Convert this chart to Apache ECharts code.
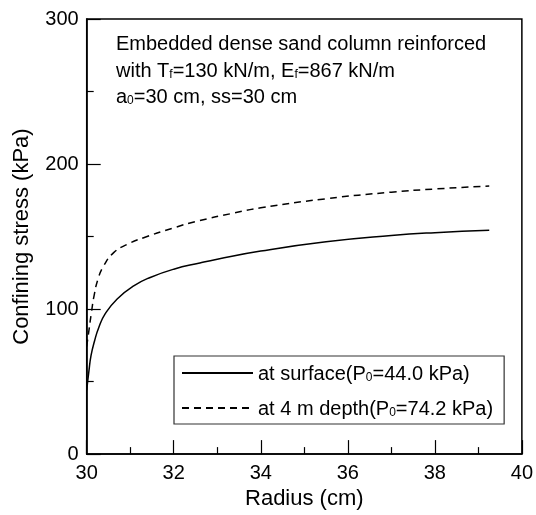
<!DOCTYPE html>
<html>
<head>
<meta charset="utf-8">
<script src="https://cdn.jsdelivr.net/npm/echarts@6/dist/echarts.min.js"></script>
<style>html,body{margin:0;padding:0;background:#fff;}#c{width:536px;height:515px;}</style>
</head>
<body>
<div id="c"></div>
<script>
// Radius (cm) and confining stress (kPa)
var surfaceRadius = [30.00, 30.05, 30.10, 30.18, 30.28, 30.43, 30.70, 31.08, 31.46, 32.00, 32.60, 33.00, 34.00, 35.50, 37.00, 38.00, 39.25];
var surfaceStress = [44.0, 57.0, 68.0, 78.0, 87.5, 97.0, 107.0, 116.0, 121.8, 127.5, 131.8, 134.4, 140.0, 146.4, 150.7, 152.7, 154.4];
var depthRadius = [30.00, 30.05, 30.11, 30.17, 30.26, 30.39, 30.62, 30.93, 31.31, 32.00, 32.50, 33.38, 34.00, 35.48, 37.00, 38.00, 39.25];
var depthStress = [74.2, 85.0, 97.9, 109.3, 120.7, 129.8, 138.9, 144.6, 149.2, 156.0, 160.3, 166.2, 169.8, 176.0, 180.6, 182.8, 184.8];
var xTicks = [30, 32, 34, 36, 38, 40];
var yTicks = [0, 100, 200, 300];
var seriesNames = ['at surface(P0=44.0 kPa)', 'at 4 m depth(P0=74.2 kPa)'];

function pairs(xs, ys) { return xs.map(function (x, i) { return [x, ys[i]]; }); }

var FONT = 'Liberation Sans, Arial, Helvetica, sans-serif';
var chart = echarts.init(document.getElementById('c'));
var subRich = {
  m: { fontSize: 20, fontFamily: FONT, color: '#000', verticalAlign: 'bottom', lineHeight: 22 },
  s: { fontSize: 12, fontFamily: FONT, color: '#000', verticalAlign: 'bottom', lineHeight: 6 }
};
function legendFmt(name) {
  var m = name.match(/^(.*P)(0)(=.*)$/);
  return '{m|' + m[1] + '}{s|' + m[2] + '}{m|' + m[3] + '}';
}

chart.setOption({
  animation: false,
  backgroundColor: '#fff',
  grid: { left: 86.7, right: 10.7, top: 19, bottom: 56.5, show: true, borderColor: '#000', borderWidth: 1.5, containLabel: false },
  xAxis: {
    type: 'value', min: xTicks[0], max: xTicks[xTicks.length - 1], interval: 2,
    name: 'Radius (cm)', nameLocation: 'middle', nameGap: 33,
    nameTextStyle: { fontSize: 22, fontFamily: FONT, color: '#000' },
    axisLine: { lineStyle: { color: '#000', width: 1.5 } },
    axisTick: { inside: true, length: 14, lineStyle: { color: '#000', width: 1.2 } },
    minorTick: { show: true, splitNumber: 2, length: 7, lineStyle: { color: '#000', width: 1.2 } },
    axisLabel: { fontSize: 20, fontFamily: FONT, color: '#000', margin: 9 },
    splitLine: { show: false }
  },
  yAxis: {
    type: 'value', min: yTicks[0], max: yTicks[yTicks.length - 1], interval: 100,
    name: 'Confining stress (kPa)', nameLocation: 'middle', nameGap: 54,
    nameTextStyle: { fontSize: 22, fontFamily: FONT, color: '#000' },
    axisLine: { lineStyle: { color: '#000', width: 1.5 } },
    axisTick: { inside: true, length: 14, lineStyle: { color: '#000', width: 1.2 } },
    minorTick: { show: true, splitNumber: 2, length: 7, lineStyle: { color: '#000', width: 1.2 } },
    axisLabel: { fontSize: 20, fontFamily: FONT, color: '#000', margin: 8 },
    splitLine: { show: false }
  },
  legend: {
    left: 174, top: 356, orient: 'vertical',
    padding: [8, 11, 5, 7], itemGap: 15, itemWidth: 71, itemHeight: 14,
    borderColor: '#333', borderWidth: 1.2, backgroundColor: '#fff',
    itemStyle: { opacity: 0 },
    data: [{ name: seriesNames[0] }, { name: seriesNames[1] }],
    formatter: legendFmt,
    textStyle: { fontSize: 20, fontFamily: FONT, color: '#000', rich: subRich }
  },
  graphic: [
    { type: 'text', left: 116, top: 34, style: { text: 'Embedded dense sand column reinforced', font: '20px ' + FONT, fill: '#000' } },
    { type: 'text', left: 116, top: 61, style: { text: '{m|with T}{s|f}{m|=130 kN/m, E}{s|f}{m|=867 kN/m}', rich: subRich, fill: '#000' } },
    { type: 'text', left: 116, top: 87, style: { text: '{m|a}{s|0}{m|=30 cm, ss=30 cm}', rich: subRich, fill: '#000' } }
  ],
  series: [
    { name: seriesNames[0], type: 'line', data: pairs(surfaceRadius, surfaceStress), showSymbol: false, symbol: 'none',
      smooth: 0.5, lineStyle: { color: '#000', width: 1.5, type: 'solid' }, itemStyle: { color: '#000' } },
    { name: seriesNames[1], type: 'line', data: pairs(depthRadius, depthStress), showSymbol: false, symbol: 'none',
      smooth: 0.5, lineStyle: { color: '#000', width: 1.5, type: [7, 5] }, itemStyle: { color: '#000' } }
  ]
});
</script>
</body>
</html>
